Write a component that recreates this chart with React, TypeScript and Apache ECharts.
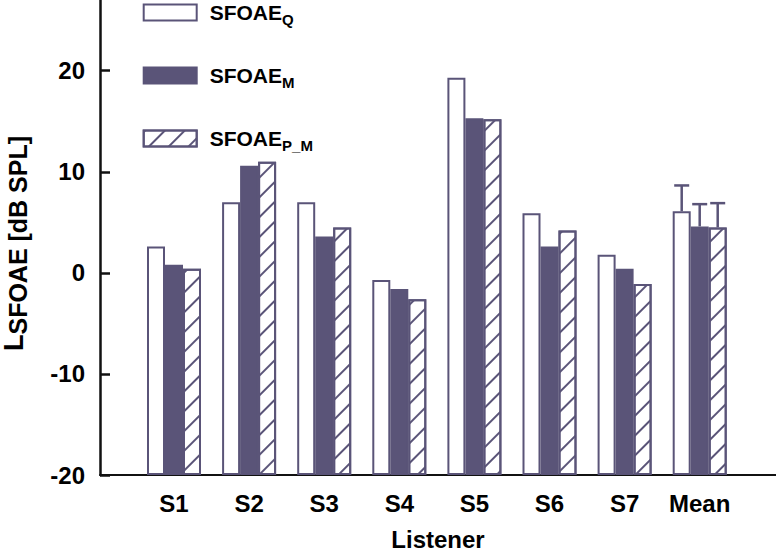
import React, { useEffect, useRef } from "react";
import * as echarts from "echarts";

// ---- data ----
const categories = ["S1", "S2", "S3", "S4", "S5", "S6", "S7", "Mean"];
const seriesNames = ["SFOAE_Q", "SFOAE_M", "SFOAE_P_M"];
const sfoaeQ = [2.6, 7.0, 7.0, -0.7, 19.3, 5.9, 1.8, 6.1];
const sfoaeM = [0.8, 10.6, 3.6, -1.6, 15.3, 2.6, 0.4, 4.6];
const sfoaePM = [0.4, 11.0, 4.5, -2.6, 15.2, 4.2, -1.1, 4.5];
// standard errors shown on the "Mean" group (Q, M, P_M)
const meanErrors = [2.55, 2.2, 2.4];
const yTicks = [-20, -10, 0, 10, 20];
const Y_MIN = -20;
const Y_MAX = 27;

// ---- style ----
const PURPLE = "#5a5478";
const FONT = "'Liberation Sans', Arial, Helvetica, sans-serif";
const BAR_W = 18;

const shift = (arr: number[]) => arr.map((v) => v - Y_MIN);

export default function App() {
  const ref = useRef<HTMLDivElement>(null);

  useEffect(() => {
    if (!ref.current) return;
    const chart = echarts.init(ref.current, undefined, { renderer: "svg" });

    const meanIdx = categories.indexOf("Mean");
    const allSeries = [sfoaeQ, sfoaeM, sfoaePM];

    const errorSeries = allSeries.map((arr, i) => ({
      type: "custom",
      xAxisIndex: 1,
      yAxisIndex: 1,
      z: 5,
      silent: true,
      data: [[meanIdx, arr[meanIdx] + meanErrors[i] - Y_MIN, arr[meanIdx] - Y_MIN]],
      renderItem: (_params: any, api: any) => {
        const top = api.coord([api.value(0), api.value(1)]);
        const base = api.coord([api.value(0), api.value(2)]);
        const x = top[0] + (i - 1) * BAR_W;
        const st = { stroke: PURPLE, lineWidth: 2.5 };
        return {
          type: "group",
          children: [
            { type: "line", shape: { x1: x, y1: base[1], x2: x, y2: top[1] }, style: st },
            { type: "line", shape: { x1: x - 7.5, y1: top[1], x2: x + 7.5, y2: top[1] }, style: st },
          ],
        };
      },
    }));

    const labelMap: Record<string, string> = {
      SFOAE_Q: "{m|SFOAE}{s|Q}",
      SFOAE_M: "{m|SFOAE}{s|M}",
      SFOAE_P_M: "{m|SFOAE}{s|P_M}",
    };

    const option: any = {
      animation: false,
      textStyle: { fontFamily: FONT },
      legend: {
        orient: "vertical",
        left: 142.7,
        top: -2,
        padding: 0,
        itemWidth: 53,
        itemHeight: 16,
        itemGap: 34,
        icon: "rect",
        data: seriesNames,
        formatter: (name: string) => labelMap[name],
        itemStyle: { borderWidth: 2 },
        textStyle: {
          rich: {
            m: {
              fontSize: 21,
              fontWeight: "bold",
              fontFamily: FONT,
              color: "#000",
              lineHeight: 22,
              verticalAlign: "top",
              padding: [0, 0, 0, 8],
            },
            s: {
              fontSize: 15,
              fontWeight: "bold",
              fontFamily: FONT,
              color: "#000",
              lineHeight: 15,
              padding: [14, 0, 0, 0],
            },
          },
        },
      },
      grid: [
        { left: 100, right: 0, top: 0, bottom: 80, outerBoundsMode: "none", containLabel: false },
        { left: 136.45, width: 600.8, top: 0, bottom: 80, outerBoundsMode: "none", containLabel: false },
      ],
      xAxis: [
        {
          gridIndex: 0,
          type: "value",
          min: 0,
          max: 1,
          axisLine: { show: true, onZero: false, lineStyle: { color: "#111", width: 2 } },
          axisTick: { show: false },
          axisLabel: { show: false },
          splitLine: { show: false },
          name: "Listener",
          nameLocation: "middle",
          nameGap: 52,
          nameTextStyle: { fontSize: 24, fontWeight: "bold", color: "#000", fontFamily: FONT },
        },
        {
          gridIndex: 1,
          type: "category",
          data: categories,
          axisLine: { show: false },
          axisTick: { show: false },
          axisLabel: {
            interval: 0,
            fontSize: 24,
            fontWeight: "bold",
            color: "#000",
            margin: 16,
            fontFamily: FONT,
          },
        },
      ],
      yAxis: [
        {
          gridIndex: 0,
          type: "value",
          min: Y_MIN,
          max: Y_MAX,
          axisLine: { show: true, onZero: false, lineStyle: { color: "#111", width: 2.5 } },
          axisTick: {
            show: true,
            inside: true,
            length: 10,
            customValues: yTicks,
            lineStyle: { color: "#111", width: 2.5 },
          },
          axisLabel: {
            customValues: yTicks,
            fontSize: 24,
            fontWeight: "bold",
            color: "#000",
            margin: 15,
            fontFamily: FONT,
          },
          splitLine: { show: false },
          name: "{l|L}{m|SFOAE [dB SPL]}",
          nameLocation: "middle",
          nameRotate: 90,
          nameGap: 70,
          nameTextStyle: {
            padding: [0, 12, 0, 0],
            rich: {
              l: {
                fontSize: 27,
                fontWeight: "bold",
                fontFamily: FONT,
                color: "#000",
                lineHeight: 27,
                verticalAlign: "bottom",
                padding: [0, 0, 3, 0],
              },
              m: {
                fontSize: 25,
                fontWeight: "bold",
                fontFamily: FONT,
                color: "#000",
                lineHeight: 27,
                verticalAlign: "bottom",
              },
            },
          },
        },
        {
          gridIndex: 1,
          type: "value",
          min: 0,
          max: Y_MAX - Y_MIN,
          show: false,
          splitLine: { show: false },
        },
      ],
      series: [
        {
          name: seriesNames[0],
          type: "bar",
          xAxisIndex: 1,
          yAxisIndex: 1,
          data: shift(sfoaeQ),
          barWidth: BAR_W,
          barGap: "0%",
          itemStyle: { color: "#ffffff", borderColor: PURPLE, borderWidth: 2 },
        },
        {
          name: seriesNames[1],
          type: "bar",
          xAxisIndex: 1,
          yAxisIndex: 1,
          data: shift(sfoaeM),
          barWidth: BAR_W,
          barGap: "0%",
          itemStyle: { color: PURPLE, borderColor: PURPLE, borderWidth: 2 },
        },
        {
          name: seriesNames[2],
          type: "bar",
          xAxisIndex: 1,
          yAxisIndex: 1,
          data: shift(sfoaePM),
          barWidth: BAR_W,
          barGap: "0%",
          itemStyle: {
            color: "#ffffff",
            borderColor: PURPLE,
            borderWidth: 2,
            decal: {
              symbol: "rect",
              symbolSize: 1,
              color: PURPLE,
              backgroundColor: "rgba(0,0,0,0)",
              dashArrayX: [1, 0],
              dashArrayY: [2, 12],
              rotation: -Math.PI / 4,
            },
          },
        },
        ...errorSeries,
      ],
    };

    chart.setOption(option);
    return () => chart.dispose();
  }, []);

  return (
    <div
      ref={ref}
      style={{ position: "fixed", left: 0, top: 0, width: 776, height: 555, background: "#fff" }}
    />
  );
}
